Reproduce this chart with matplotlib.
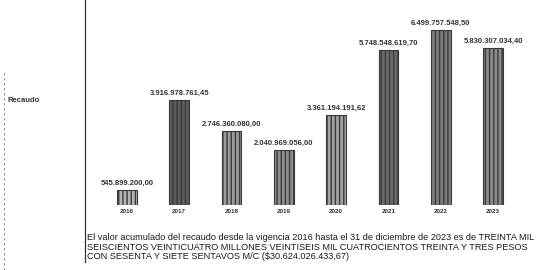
import matplotlib
matplotlib.use("Agg")
import matplotlib.pyplot as plt
from matplotlib.lines import Line2D
import numpy as np

years = ["2016", "2017", "2018", "2019", "2020", "2021", "2022", "2023"]
recaudo = [545899200.00, 3916978761.45, 2746360080.00, 2040969056.00,
           3361194191.62, 5748548619.70, 6499757548.50, 5830307034.40]
nota = ("El valor acumulado del recaudo desde la vigencia 2016 hasta el 31 de diciembre de 2023 es de TREINTA MIL\n"
        "SEISCIENTOS VEINTICUATRO MILLONES VEINTISEIS MIL CUATROCIENTOS TREINTA Y TRES PESOS\n"
        "CON SESENTA Y SIETE SENTAVOS M/C ($30.624.026.433,67)")

# scanned look: darker / lighter gray per bar
bar_colors = ["#b4b4b4", "#5c5c5c", "#9a9a9a", "#8e8e8e",
              "#a2a2a2", "#6a6a6a", "#7c7c7c", "#8a8a8a"]


def fmt(v):
    s = "{:,.2f}".format(v)
    return s.replace(",", "X").replace(".", ",").replace("X", ".")


plt.rcParams['font.family'] = ['Liberation Sans', 'DejaVu Sans']
fig = plt.figure(figsize=(5.36, 2.70), dpi=100)
fig.patch.set_facecolor("white")
ax = fig.add_axes([85 / 536, 65 / 270, 451 / 536, 205 / 270])

x = np.arange(len(years))
bars = ax.bar(x, recaudo, width=0.38, color=bar_colors, edgecolor="#3a3a3a",
              linewidth=0.8, hatch="||||")
for b, v in zip(bars, recaudo):
    ax.text(b.get_x() + b.get_width() / 2, v + 1.2e8, fmt(v), ha="center",
            va="bottom", fontsize=5.5, fontweight="bold", color="#333333")

ax.set_xlim(-0.80, 7.82)
ax.set_ylim(0, 7.62e9)
ax.set_xticks(x)
ax.set_xticklabels(years, fontsize=4.5, fontweight="bold", color="#333333")
ax.tick_params(axis="x", length=0, pad=3)
ax.set_yticks([])
for sp in ["top", "right", "bottom", "left"]:
    ax.spines[sp].set_visible(False)

# vertical rule left of the chart and scan edge line
fig.add_artist(Line2D([85 / 536, 85 / 536], [1 - 262 / 270, 1.0], color="#333333", lw=0.9))
fig.add_artist(Line2D([4 / 536, 4 / 536], [0.0, 1 - 70 / 270], color="#777777", lw=0.6, ls=(0, (3, 3))))

fig.text(7 / 536, 1 - 100 / 270, "Recaudo", fontsize=5.5, fontweight="bold",
         color="#333333", va="center")
fig.text(87 / 536, 1 - 233 / 270, nota, fontsize=6.6, color="#1a1a1a", va="top",
         linespacing=1.1)

plt.savefig("out.png", dpi=100)
